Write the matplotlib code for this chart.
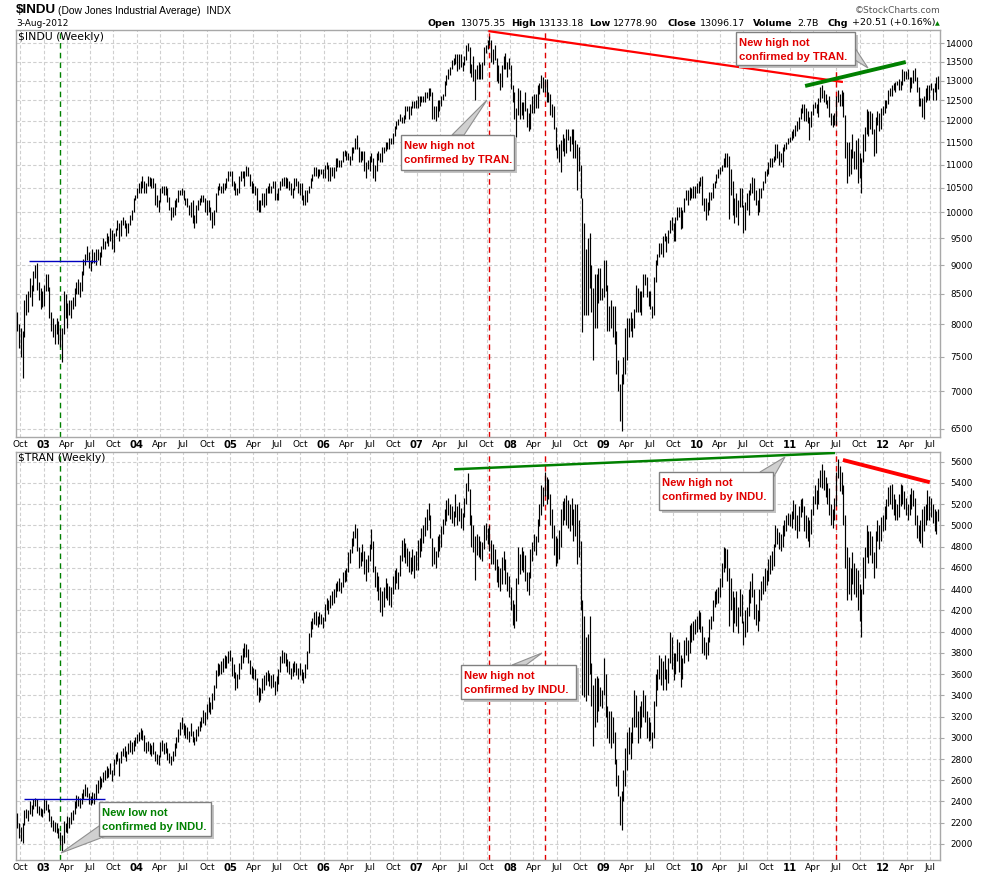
import matplotlib
matplotlib.use("Agg")
import matplotlib.pyplot as plt
import matplotlib.dates as mdates
from matplotlib.patches import Rectangle, Polygon
from matplotlib.ticker import FixedLocator, NullLocator
from datetime import datetime
import pandas as pd

W, H = 990, 876

# weekly bars (Fridays), 20-Sep-2002 .. 3-Aug-2012
first_week = "2002-09-20"

indu_high = [
    # 2002
    8200, 8000, 7940, 7900, 8400, 8500, 8550, 8770, 8650, 8900, 9000, 9043, 8700, 8600, 8550,
    # 2003
    8650, 8850, 8850, 8620, 8200, 8100, 8000, 8100, 8050, 7950, 7950, 8550, 8500,
    8350, 8400, 8400, 8450, 8600, 8700, 8750, 8700, 8900, 9120, 9200, 9350, 9250,
    9100, 9300, 9250, 9300, 9300, 9250, 9350, 9500, 9450, 9600, 9550, 9700, 9650,
    9600, 9700, 9850, 9800, 9850, 9900, 9850, 9800, 9800, 9950, 10050, 10300, 10350,
    # 2004
    10500, 10600, 10650, 10750, 10650, 10600, 10750, 10720, 10700, 10700, 10600, 10350, 10250,
    10500, 10550, 10550, 10550, 10500, 10320, 10100, 10100, 10250, 10300, 10450, 10450, 10500,
    10450, 10300, 10300, 10150, 10200, 10250, 9950, 10150, 10250, 10300, 10350, 10350, 10300,
    10250, 10250, 10100, 10000, 10050, 10400, 10550, 10600, 10550, 10600, 10600, 10700, 10850, 10870,
    # 2005
    10850, 10650, 10600, 10500, 10750, 10850, 10850, 10850, 10960, 10950, 10800, 10650,
    10600, 10550, 10500, 10250, 10250, 10400, 10400, 10500, 10550, 10600, 10550, 10650, 10650,
    10400, 10500, 10650, 10700, 10720, 10720, 10700, 10650, 10600, 10500, 10700, 10700, 10650, 10600,
    10600, 10350, 10450, 10450, 10550, 10700, 10800, 10950, 10950, 10900, 10900, 10900, 10900,
    # 2006
    11000, 11050, 11000, 10950, 10950, 10950, 11150, 11150, 11100, 11100, 11300, 11330, 11300,
    11250, 11200, 11400, 11400, 11600, 11670, 11400, 11300, 11300, 11300, 11050, 11100, 11200,
    11250, 11150, 11000, 11250, 11300, 11250, 11400, 11400, 11500, 11500, 11600, 11600, 11720,
    11880, 11990, 12050, 12170, 12100, 12150, 12350, 12350, 12350, 12350, 12480, 12480, 12520,
    # 2007
    12600, 12600, 12600, 12600, 12700, 12700, 12800, 12800, 12700, 12350, 12350, 12500, 12500,
    12600, 12650, 12980, 13150, 13300, 13350, 13560, 13600, 13700, 13700, 13700, 13700, 13500,
    13650, 13950, 14020, 13900, 13450, 13650, 13300, 13400, 13500, 13450, 13500, 13900, 13950,
    14100, 14198, 14100, 13850, 13950, 13600, 13400, 13200, 13400, 13650, 13750, 13500, 13600,
    # 2008
    13400, 12900, 12700, 12300, 12800, 12750, 12450, 12450, 12700, 12300, 12200, 12400, 12600,
    12650, 12650, 12900, 12950, 13150, 13100, 13050, 13050, 12700, 12650, 12400, 12350, 11850,
    11400, 11450, 11550, 11700, 11600, 11800, 11800, 11650, 11800, 11800, 11550, 11450, 11400,
    11000, 10300, 9800, 9300, 9500, 9600, 9000, 8600, 8850, 8850, 8950, 8950, 8600,
    # 2009
    9100, 9100, 8650, 8300, 8400, 8300, 8300, 7900, 7450, 7100, 7250, 7500, 7950,
    8100, 8100, 8200, 8100, 8250, 8650, 8600, 8550, 8550, 8850, 8850, 8800, 8550,
    8550, 8300, 8800, 9100, 9200, 9400, 9400, 9550, 9600, 9550, 9650, 9850, 9900,
    9800, 9900, 10100, 10100, 10100, 10050, 10300, 10450, 10450, 10520, 10500, 10550, 10550,
    # 2010
    10600, 10650, 10730, 10750, 10300, 10300, 10200, 10420, 10420, 10600, 10650, 10800, 10900,
    10950, 11000, 11150, 11250, 11250, 11200, 10900, 10650, 10300, 10400, 10250, 10500, 10500,
    10150, 10200, 10400, 10450, 10600, 10720, 10700, 10450, 10250, 10500, 10500, 10650, 10870,
    10900, 11050, 11150, 11150, 11200, 11450, 11450, 11300, 11250, 11400, 11450, 11500, 11600, 11620,
    # 2011
    11750, 11800, 11900, 12000, 12100, 12300, 12400, 12400, 12300, 12250, 12100, 12250,
    12420, 12450, 12400, 12550, 12850, 12876, 12750, 12650, 12500, 12600, 12200, 12150, 12200,
    12600, 12750, 12650, 12750, 12700, 12150, 11500, 11500, 11350, 11700, 11300, 11550, 11600, 11250,
    11150, 11700, 11850, 12280, 12250, 12250, 12200, 11800, 12100, 12250, 12200, 12300, 12350,
    # 2012
    12500, 12500, 12750, 12800, 12900, 12950, 12960, 13000, 13050, 12980, 13300, 13250, 13250,
    13300, 13100, 13100, 13280, 13340, 13100, 12850, 12550, 12550, 12600, 12800, 12900, 12900,
    12950, 12800, 12950, 13100, 13133,
]
indu_low = [
    # 2002
    7900, 7640, 7500, 7197, 7800, 8150, 8200, 8450, 8300, 8550, 8780, 8560, 8400, 8250, 8290,
    # 2003
    8300, 8550, 8550, 8100, 7900, 7800, 7700, 7850, 7700, 7650, 7416, 7850, 8100,
    7950, 8150, 8100, 8250, 8300, 8500, 8500, 8450, 8550, 8830, 9000, 9100, 8950,
    8900, 9050, 9050, 9000, 9100, 9000, 9150, 9300, 9300, 9400, 9350, 9450, 9300,
    9250, 9550, 9650, 9450, 9550, 9750, 9700, 9550, 9600, 9750, 9850, 10000, 10250,
    # 2004
    10300, 10400, 10400, 10500, 10400, 10400, 10550, 10550, 10500, 10500, 10150, 10100, 10000,
    10200, 10400, 10350, 10350, 10200, 10050, 9850, 9900, 9950, 10100, 10200, 10350, 10350,
    10250, 10150, 10100, 9950, 9900, 9800, 9700, 9800, 10050, 10150, 10200, 10200, 10000,
    9950, 10000, 9850, 9700, 9750, 10000, 10350, 10450, 10400, 10400, 10450, 10500, 10650, 10750,
    # 2005
    10550, 10450, 10350, 10350, 10400, 10650, 10700, 10550, 10750, 10750, 10550, 10400,
    10400, 10350, 10050, 10000, 10000, 10150, 10100, 10150, 10400, 10400, 10400, 10500, 10250,
    10250, 10250, 10450, 10550, 10550, 10500, 10500, 10450, 10350, 10300, 10450, 10550, 10400, 10350,
    10250, 10150, 10150, 10200, 10400, 10500, 10650, 10750, 10750, 10700, 10750, 10800, 10700,
    # 2006
    10700, 10900, 10650, 10650, 10750, 10700, 10850, 10950, 10950, 10950, 11050, 11200, 11100,
    11100, 11000, 11100, 11250, 11350, 11350, 11050, 11050, 11100, 10850, 10700, 10900, 10850,
    11050, 10700, 10650, 10850, 11100, 11050, 11050, 11250, 11300, 11350, 11350, 11450, 11450,
    11650, 11800, 11900, 12000, 11950, 11950, 12050, 12250, 12050, 12150, 12300, 12300, 12320,
    # 2007
    12300, 12350, 12450, 12450, 12450, 12550, 12500, 12600, 12050, 12050, 12000, 12100, 12250,
    12350, 12500, 12600, 12900, 13050, 13150, 13300, 13400, 13450, 13250, 13300, 13350, 13250,
    13400, 13550, 13800, 13200, 13100, 13000, 12520, 13050, 13050, 13050, 13050, 13400, 13750,
    13850, 13950, 13500, 13450, 13550, 13000, 12950, 12750, 12850, 13300, 13300, 13100, 13300,
    # 2008
    12780, 12450, 12050, 11630, 12150, 12050, 12150, 12050, 12250, 11850, 11750, 11800, 12200,
    12200, 12300, 12300, 12650, 12800, 12700, 12700, 12450, 12450, 12150, 12100, 11800, 11330,
    11150, 11050, 10830, 11300, 11200, 11250, 11550, 11300, 11450, 11150, 11150, 10450, 10850,
    10300, 7880, 8150, 8150, 8150, 8600, 8200, 7450, 7950, 7950, 8350, 8400, 8400,
    # 2009
    8450, 8550, 7900, 7900, 7950, 7800, 7700, 7250, 7000, 6600, 6470, 7100, 7250,
    7450, 7800, 7900, 7800, 7950, 8200, 8200, 8200, 8150, 8450, 8650, 8450, 8300,
    8250, 8100, 8150, 8700, 9000, 9150, 9200, 9150, 9450, 9250, 9400, 9600, 9650,
    9450, 9450, 9850, 9900, 9680, 9700, 10000, 10250, 10150, 10250, 10300, 10300, 10300,
    # 2010
    10400, 10400, 10550, 10150, 10030, 9850, 9950, 10050, 10250, 10300, 10500, 10600, 10700,
    10800, 10850, 10950, 10950, 10950, 9870, 10350, 9950, 9800, 9900, 9750, 10100, 10100,
    9600, 9650, 10050, 9950, 10350, 10400, 10250, 10150, 9950, 10000, 10300, 10450, 10600,
    10750, 10800, 10950, 10950, 11050, 11100, 11150, 11000, 11050, 10950, 11300, 11350, 11450, 11500,
    # 2011
    11550, 11600, 11650, 11750, 11800, 12050, 12200, 12000, 12000, 11950, 11550, 11850,
    12150, 12300, 12200, 12100, 12450, 12550, 12450, 12400, 12300, 12100, 11900, 11850, 11900,
    11900, 12450, 12350, 12350, 12100, 11150, 10600, 10750, 10800, 11150, 10900, 10900, 10600, 10700,
    10400, 11050, 11300, 11700, 11650, 11800, 11700, 11200, 11250, 11900, 11750, 11800, 12150,
    # 2012
    12200, 12300, 12400, 12600, 12600, 12750, 12700, 12900, 12750, 12750, 12900, 13000, 13050,
    13050, 12700, 12800, 12950, 13000, 12700, 12350, 12350, 12100, 12040, 12450, 12500, 12500,
    12750, 12500, 12700, 12500, 12779,
]

tran_high = [
    # 2002
    2290, 2200, 2160, 2200, 2320, 2330, 2320, 2400, 2370, 2420, 2430, 2420, 2360, 2340, 2330,
    # 2003
    2420, 2410, 2380, 2330, 2260, 2230, 2210, 2200, 2150, 2110, 2080, 2220, 2200,
    2260, 2250, 2300, 2320, 2400, 2460, 2450, 2430, 2480, 2520, 2560, 2540, 2480,
    2450, 2490, 2480, 2560, 2600, 2640, 2620, 2680, 2700, 2730, 2720, 2760, 2700,
    2800, 2850, 2870, 2810, 2880, 2900, 2920, 2880, 2950, 2980, 2960, 2980, 3010,
    # 2004
    3040, 3050, 3090, 3070, 3030, 2960, 2970, 2950, 2930, 2960, 2880, 2850, 2840,
    2960, 2980, 2950, 2960, 2900, 2860, 2830, 2880, 2950, 3010, 3080, 3150, 3200,
    3140, 3120, 3100, 3060, 3140, 3060, 3010, 3080, 3110, 3160, 3200, 3260, 3240,
    3320, 3380, 3340, 3420, 3500, 3640, 3700, 3690, 3720, 3750, 3780, 3770, 3820, 3830,
    # 2005
    3760, 3690, 3620, 3600, 3700, 3780, 3850, 3890, 3880, 3840, 3730, 3680,
    3660, 3650, 3560, 3480, 3470, 3560, 3590, 3620, 3640, 3610, 3590, 3600, 3530,
    3580, 3650, 3770, 3830, 3810, 3800, 3740, 3720, 3660, 3700, 3720, 3700, 3660, 3700,
    3650, 3620, 3690, 3820, 3990, 4100, 4130, 4180, 4190, 4150, 4180, 4170, 4140,
    # 2006
    4260, 4320, 4300, 4340, 4380, 4400, 4460, 4480, 4500, 4470, 4560, 4580, 4600,
    4750, 4780, 4880, 4950, 5010, 4980, 4800, 4750, 4820, 4760, 4680, 4720, 4820,
    4970, 4850, 4620, 4560, 4520, 4420, 4380, 4420, 4500, 4460, 4430, 4420, 4520,
    4580, 4600, 4560, 4720, 4860, 4880, 4830, 4790, 4760, 4700, 4780, 4720, 4760,
    # 2007
    4860, 4880, 4980, 5000, 5080, 5150, 5210, 5100, 4880, 4800, 4760, 4900, 4920,
    4990, 5060, 5150, 5240, 5260, 5200, 5180, 5140, 5300, 5180, 5220, 5160, 5120,
    5260, 5400, 5490, 5340, 5100, 5000, 4900, 4920, 4900, 4850, 4840, 5000, 5020,
    4980, 5000, 4860, 4820, 4780, 4680, 4620, 4600, 4700, 4760, 4680, 4560, 4520,
    # 2008
    4420, 4300, 4260, 4500, 4800, 4730, 4800, 4760, 4720, 4560, 4560, 4780, 4840,
    4920, 4900, 5060, 5200, 5380, 5360, 5500, 5460, 5440, 5300, 5150, 5000, 4900,
    4880, 4960, 5150, 5230, 5260, 5290, 5240, 5200, 5260, 5150, 5200, 5200, 5050,
    4850, 4300, 4150, 3950, 3980, 4150, 3700, 3500, 3560, 3580, 3560, 3480, 3450,
    # 2009
    3750, 3600, 3300, 3250, 3250, 3200, 3050, 2800, 2650, 2450, 2500, 2700, 2900,
    3050, 3100, 3050, 3200, 3450, 3400, 3250, 3300, 3350, 3450, 3400, 3250, 3200,
    3150, 3050, 3350, 3600, 3650, 3780, 3750, 3720, 3780, 3650, 3750, 4000, 3950,
    3800, 3800, 3930, 3900, 3780, 3750, 3920, 3950, 3920, 4060, 4080, 4100, 4120,
    # 2010
    4150, 4200, 4180, 4050, 3950, 3900, 3950, 4120, 4150, 4300, 4380, 4400, 4420,
    4500, 4650, 4800, 4790, 4780, 4600, 4500, 4380, 4330, 4380, 4230, 4400, 4350,
    4100, 4200, 4230, 4400, 4480, 4550, 4400, 4260, 4200, 4400, 4480, 4520, 4600,
    4580, 4680, 4720, 4760, 4820, 5000, 4980, 4940, 4920, 5000, 5050, 5100, 5120, 5110,
    # 2011
    5140, 5240, 5200, 5100, 5180, 5250, 5260, 5180, 5100, 5080, 5050, 5150,
    5280, 5380, 5330, 5450, 5520, 5580, 5520, 5460, 5400, 5350, 5200, 5150, 5260,
    5500, 5627, 5560, 5500, 5380, 5100, 4800, 4700, 4600, 4750, 4650, 4600, 4580, 4450,
    4400, 4700, 4800, 5000, 4950, 4950, 4900, 4750, 4950, 5050, 5000, 5080, 5100,
    # 2012
    5180, 5250, 5360, 5380, 5390, 5300, 5250, 5200, 5300, 5390, 5380, 5320, 5260,
    5200, 5300, 5350, 5330, 5260, 5100, 5000, 5050, 5150, 5180, 5200, 5330, 5280,
    5260, 5200, 5150, 5140, 5150,
]
tran_low = [
    # 2002
    2150, 2060, 2030, 2010, 2180, 2240, 2220, 2280, 2260, 2330, 2360, 2290, 2270, 2260, 2250,
    # 2003
    2290, 2320, 2300, 2220, 2160, 2120, 2110, 2100, 2060, 1990, 1930, 2010, 2110,
    2100, 2150, 2190, 2230, 2280, 2340, 2360, 2340, 2380, 2420, 2450, 2440, 2380,
    2370, 2390, 2380, 2420, 2480, 2520, 2540, 2580, 2600, 2620, 2630, 2660, 2590,
    2650, 2750, 2780, 2640, 2760, 2830, 2820, 2780, 2850, 2870, 2850, 2880, 2920,
    # 2004
    2950, 2970, 2990, 2980, 2880, 2860, 2880, 2850, 2830, 2850, 2780, 2750, 2740,
    2820, 2880, 2850, 2860, 2790, 2760, 2740, 2780, 2830, 2900, 2960, 3030, 3080,
    3030, 3000, 2990, 2960, 3020, 2960, 2930, 2970, 3020, 3060, 3100, 3140, 3120,
    3180, 3240, 3220, 3270, 3360, 3470, 3580, 3590, 3600, 3620, 3660, 3660, 3700, 3720,
    # 2005
    3580, 3560, 3450, 3470, 3550, 3650, 3700, 3760, 3760, 3700, 3600, 3560,
    3550, 3540, 3400, 3340, 3360, 3420, 3450, 3500, 3530, 3490, 3470, 3480, 3400,
    3440, 3510, 3620, 3700, 3700, 3680, 3620, 3600, 3550, 3580, 3620, 3590, 3550, 3590,
    3540, 3520, 3560, 3650, 3800, 3950, 4020, 4070, 4060, 4040, 4070, 4070, 4030,
    # 2006
    4100, 4200, 4170, 4220, 4250, 4270, 4330, 4380, 4380, 4360, 4420, 4470, 4480,
    4560, 4650, 4740, 4810, 4880, 4760, 4600, 4620, 4660, 4540, 4480, 4560, 4660,
    4780, 4560, 4420, 4380, 4300, 4180, 4150, 4230, 4320, 4300, 4250, 4230, 4350,
    4400, 4460, 4400, 4520, 4660, 4700, 4650, 4620, 4560, 4540, 4570, 4500, 4580,
    # 2007
    4580, 4700, 4760, 4830, 4900, 4960, 5050, 4880, 4620, 4640, 4600, 4700, 4760,
    4800, 4920, 5000, 5040, 5100, 5060, 5020, 4990, 5080, 5000, 5040, 4980, 4960,
    5080, 5200, 5320, 5000, 4800, 4750, 4490, 4720, 4700, 4680, 4660, 4780, 4860,
    4820, 4760, 4640, 4640, 4580, 4470, 4420, 4380, 4450, 4580, 4450, 4380, 4330,
    # 2008
    4200, 4060, 4030, 4100, 4450, 4540, 4580, 4560, 4480, 4380, 4340, 4500, 4660,
    4760, 4720, 4840, 4990, 5100, 5180, 5280, 5200, 5250, 5000, 4880, 4720, 4620,
    4650, 4680, 4800, 5000, 5050, 5000, 4980, 4950, 5000, 4850, 4900, 4640, 4700,
    4200, 3400, 3380, 3350, 3400, 3600, 3300, 2920, 3100, 3150, 3250, 3300, 3280,
    # 2009
    3400, 3200, 3000, 2950, 2900, 2950, 2750, 2550, 2450, 2180, 2130, 2400, 2550,
    2700, 2850, 2800, 2950, 3100, 3100, 2950, 3000, 3100, 3200, 3150, 3000, 2970,
    2980, 2900, 3000, 3300, 3450, 3550, 3500, 3450, 3550, 3450, 3520, 3700, 3650,
    3540, 3600, 3720, 3620, 3480, 3550, 3700, 3780, 3720, 3800, 3900, 3920, 3980,
    # 2010
    4000, 4020, 4000, 3800, 3780, 3740, 3780, 3900, 4020, 4100, 4230, 4260, 4270,
    4330, 4420, 4560, 4600, 4480, 4050, 4200, 4000, 4080, 4050, 3990, 4150, 4080,
    3870, 3950, 4000, 4150, 4270, 4330, 4120, 4060, 4010, 4100, 4300, 4350, 4380,
    4440, 4480, 4540, 4580, 4620, 4800, 4820, 4780, 4760, 4800, 4900, 4950, 5000, 4990,
    # 2011
    4980, 5060, 4960, 4880, 4950, 5080, 5130, 4950, 4880, 4850, 4800, 4920,
    5100, 5200, 5150, 5200, 5360, 5350, 5330, 5270, 5200, 5100, 5000, 4980, 5050,
    5180, 5450, 5320, 5300, 5000, 4600, 4300, 4350, 4300, 4450, 4350, 4330, 4200, 4100,
    3951, 4350, 4500, 4700, 4650, 4720, 4650, 4500, 4600, 4850, 4780, 4850, 4950,
    # 2012
    4960, 5060, 5180, 5200, 5150, 5100, 5050, 5050, 5080, 5180, 5200, 5150, 5100,
    5050, 5100, 5150, 5180, 5000, 4880, 4850, 4830, 4800, 4950, 5000, 5050, 5050,
    5080, 5020, 4950, 4920, 5040,
]

indu_ticks = [6500, 7000, 7500, 8000, 8500, 9000, 9500, 10000, 10500, 11000,
              11500, 12000, 12500, 13000, 13500, 14000]
tran_ticks = [2000, 2200, 2400, 2600, 2800, 3000, 3200, 3400, 3600, 3800, 4000,
              4200, 4400, 4600, 4800, 5000, 5200, 5400, 5600]

# trend lines and markers (date, value)
indu_red_line = (["2007-10-08", "2011-07-27"], [14350, 12966])
indu_green_line = (["2011-03-01", "2012-03-29"], [12864, 13493])
tran_green_line = (["2007-05-27", "2011-06-26"], [5528, 5682])
tran_red_line = (["2011-07-27", "2012-07-01"], [5616, 5406])
indu_blue_line = (["2002-11-04", "2003-07-28"], [9080, 9080])
tran_blue_line = (["2002-10-16", "2003-08-29"], [2421, 2421])
green_marker = "2003-03-07"
red_markers = ["2007-10-09", "2008-05-15", "2011-06-29"]

RED = "#e00000"
GREEN = "#008000"
GRID = "#cfcfcf"
FRAME = "#a8a8a8"


def fx(x):
    return x / W


def fy(y):
    return 1 - y / H


def d2n(s):
    return mdates.date2num(pd.Timestamp(s).to_pydatetime())


weeks = pd.date_range(first_week, periods=len(indu_high), freq="W-FRI")
wx = mdates.date2num(weeks.to_pydatetime())
quarters = pd.date_range("2002-10-01", "2012-07-01", freq="QS")
qx = mdates.date2num(quarters.to_pydatetime())
qlabels = [f"{q.year % 100:02d}" if q.month == 1 else q.strftime("%b") for q in quarters]
x0 = mdates.date2num(datetime(2002, 9, 15))
x1 = mdates.date2num(datetime(2012, 8, 10))

fig = plt.figure(figsize=(9.9, 8.76), dpi=100)
ax1 = fig.add_axes([fx(16), fy(437), (940 - 16) / W, (437 - 30) / H])
ax2 = fig.add_axes([fx(16), fy(860), (940 - 16) / W, (860 - 452) / H])
ax1.set_yscale("log")
ax1.set_ylim(6393, 14381)
ax2.set_ylim(1849, 5691)


def style(ax, ticks):
    ax.set_xlim(x0, x1)
    for s in ax.spines.values():
        s.set_color(FRAME)
        s.set_linewidth(1)
    ax.yaxis.tick_right()
    ax.yaxis.set_major_locator(FixedLocator(ticks))
    ax.yaxis.set_minor_locator(NullLocator())
    ax.set_yticklabels([str(t) for t in ticks])
    ax.tick_params(axis="y", length=3, color=FRAME, pad=20.5, labelsize=6.3)
    for lab in ax.get_yticklabels():
        lab.set_horizontalalignment("right")
    ax.set_xticks(qx)
    ax.set_xticklabels(qlabels)
    ax.xaxis.set_minor_locator(NullLocator())
    ax.tick_params(axis="x", length=0, pad=2.5, labelsize=6.5)
    for lab, q in zip(ax.get_xticklabels(), quarters):
        if q.month == 1:
            lab.set_fontweight("bold")
            lab.set_fontsize(7.2)
    ax.grid(True, color=GRID, linestyle=(0, (3, 2)), linewidth=0.8)
    ax.set_axisbelow(True)


style(ax1, indu_ticks)
style(ax2, tran_ticks)

# price bars
ax1.vlines(wx, indu_low, indu_high, color="black", lw=0.85, zorder=3)
ax2.vlines(wx, tran_low, tran_high, color="black", lw=0.85, zorder=3)

# vertical markers
for ax in (ax1, ax2):
    ax.axvline(d2n(green_marker), color=GREEN, lw=1.0, ls=(0, (4, 3)), zorder=2)
    for m in red_markers:
        ax.axvline(d2n(m), color=RED, lw=1.0, ls=(0, (4, 3)), zorder=2)


def trend(ax, line, color, lw):
    ax.plot([d2n(d) for d in line[0]], line[1], color=color, lw=lw,
            solid_capstyle="butt", zorder=4)


trend(ax1, indu_red_line, "#ff0000", 1.6)
trend(ax1, indu_green_line, "#008000", 2.8)
trend(ax1, indu_blue_line, "#0000c0", 1.0)
trend(ax2, tran_green_line, "#008000", 1.8)
trend(ax2, tran_red_line, "#ff0000", 2.8)
trend(ax2, tran_blue_line, "#0000c0", 1.0)

# panel captions
fig.text(fx(18), fy(37), "$INDU (Weekly)", fontsize=7.8, va="center", ha="left")
fig.text(fx(18), fy(458), "$TRAN (Weekly)", fontsize=7.8, va="center", ha="left")

# header
fig.text(fx(16), fy(10), "$INDU", fontsize=9.6, fontweight="bold",
         family="Liberation Sans", va="center", ha="left")
fig.text(fx(58), fy(10.5), "(Dow Jones Industrial Average)  INDX", fontsize=7.4,
         family="Liberation Sans", va="center", ha="left")
fig.text(fx(16), fy(23), "3-Aug-2012", fontsize=6.5, va="center", ha="left")
fig.text(fx(940), fy(10.5), "\u00a9StockCharts.com", fontsize=6.5, color="#555555",
         va="center", ha="right")
header = [(428, "Open", True), (461, "13075.35", False), (511, "High", True),
          (539, "13133.18", False), (589, "Low", True), (613, "12778.90", False),
          (667, "Close", True), (700, "13096.17", False), (753, "Volume", True),
          (797, "2.7B", False), (827, "Chg", True), (852, "+20.51 (+0.16%)", False)]
for x, s, b in header:
    fig.text(fx(x), fy(23), s, fontsize=6.8, fontweight="bold" if b else "normal",
             va="center", ha="left")
fig.text(fx(937), fy(23.5), "\u25b2", fontsize=4.5, color=GREEN, va="center", ha="center")


def callout(box, lines, color, pointer):
    bx0, by0, bx1, by1 = box
    fig.add_artist(Rectangle((fx(bx0 + 3), fy(by1 + 3)), (bx1 - bx0) / W, (by1 - by0) / H,
                             transform=fig.transFigure, facecolor="#c4c4c4",
                             edgecolor="none", zorder=5))
    fig.add_artist(Polygon([(fx(px), fy(py)) for px, py in pointer], closed=True,
                           transform=fig.transFigure, facecolor="#d0d0d0",
                           edgecolor="#909090", lw=0.8, zorder=5))
    fig.add_artist(Rectangle((fx(bx0), fy(by1)), (bx1 - bx0) / W, (by1 - by0) / H,
                             transform=fig.transFigure, facecolor="white",
                             edgecolor="#808080", lw=1.0, zorder=6))
    for i, s in enumerate(lines):
        fig.text(fx(bx0 + 3), fy(by0 + 11 + 14 * i), s, color=color, fontsize=8.1,
                 fontweight="bold", family="Liberation Sans", va="center", ha="left",
                 zorder=7)


callout((401, 135, 514, 170), ["New high not", "confirmed by TRAN."], RED,
        [(452, 135), (464, 135), (487, 100)])
callout((736, 32, 855, 65), ["New high not", "confirmed by TRAN."], RED,
        [(855, 48), (855, 60), (868, 68)])
callout((461, 665, 576, 699), ["New high not", "confirmed by INDU."], RED,
        [(512, 665), (526, 665), (542, 653)])
callout((659, 472, 773, 510), ["New high not", "confirmed by INDU."], RED,
        [(760, 472), (773, 478), (785, 457)])
callout((99, 802, 211, 836), ["New low not", "confirmed by INDU."], GREEN,
        [(99, 826), (106, 836), (61, 853)])

fig.savefig("out.png", dpi=100)
